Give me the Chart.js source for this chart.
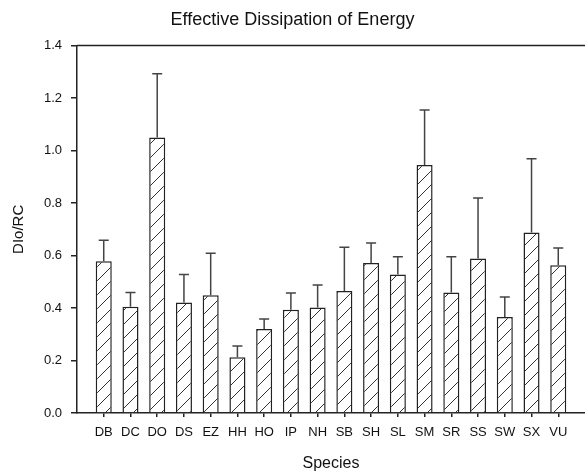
<!DOCTYPE html>
<html>
<head>
<meta charset="utf-8">
<script src="https://cdn.jsdelivr.net/npm/chart.js@4.4.1/dist/chart.umd.min.js"></script>
<style>
  html, body { margin: 0; padding: 0; background: #fff; }
  #wrap { width: 585px; height: 475px; }
</style>
</head>
<body>
<div id="wrap"><canvas id="dissChart" width="585" height="475"></canvas></div>
<script>
// values
const species = ["DB", "DC", "DO", "DS", "EZ", "HH", "HO", "IP", "NH",
  "SB", "SH", "SL", "SM", "SR", "SS", "SW", "SX", "VU"];
const dioRc = [0.578, 0.405, 1.050, 0.421, 0.449, 0.212, 0.320, 0.393, 0.402,
  0.465, 0.572, 0.528, 0.945, 0.459, 0.589, 0.366, 0.688, 0.563];
const dioRcErr = [0.080, 0.054, 0.243, 0.107, 0.160, 0.043, 0.038, 0.064, 0.086,
  0.167, 0.076, 0.067, 0.210, 0.136, 0.230, 0.076, 0.281, 0.066];
const yTicks = [0, 0.2, 0.4, 0.6, 0.8, 1.0, 1.2, 1.4];

const FONT = "'Liberation Sans', Arial, sans-serif";
const INK = "#222";

// diagonal hatch fill
function makeHatch() {
  const s = 14;
  const c = document.createElement("canvas");
  c.width = s;
  c.height = s;
  const g = c.getContext("2d");
  g.fillStyle = "#fff";
  g.fillRect(0, 0, s, s);
  g.strokeStyle = "#333";
  g.lineWidth = 1;
  g.beginPath();
  g.moveTo(0, s);
  g.lineTo(s, 0);
  g.moveTo(-s / 2, s / 2);
  g.lineTo(s / 2, -s / 2);
  g.moveTo(s / 2, s * 1.5);
  g.lineTo(s * 1.5, s / 2);
  g.stroke();
  return g.createPattern(c, "repeat");
}

// upper error bars + top frame line
const errorBars = {
  id: "errorBars",
  afterDatasetsDraw(chart) {
    const { ctx, scales: { x, y } } = chart;
    ctx.save();
    ctx.strokeStyle = "#444";
    ctx.lineWidth = 1.5;
    dioRc.forEach((v, i) => {
      const px = x.getPixelForValue(i + 1);
      const yb = y.getPixelForValue(v);
      const yt = y.getPixelForValue(v + dioRcErr[i]);
      ctx.beginPath();
      ctx.moveTo(px, yb);
      ctx.lineTo(px, yt);
      ctx.moveTo(px - 5, yt);
      ctx.lineTo(px + 5, yt);
      ctx.stroke();
    });
    ctx.restore();
  },
  afterDraw(chart) {
    const { ctx, chartArea: a } = chart;
    ctx.save();
    ctx.strokeStyle = INK;
    ctx.lineWidth = 1.5;
    ctx.beginPath();
    ctx.moveTo(a.left, a.top);
    ctx.lineTo(a.right, a.top);
    ctx.stroke();
    ctx.restore();
  },
};

new Chart(document.getElementById("dissChart"), {
  type: "bar",
  data: {
    datasets: [
      {
        label: "DIo/RC",
        data: species.map((s, i) => ({ x: i + 1, y: dioRc[i] })),
        backgroundColor: makeHatch(),
        borderColor: INK,
        borderWidth: 1.5,
        borderSkipped: "bottom",
        barPercentage: 0.6,
        categoryPercentage: 1,
      },
    ],
  },
  options: {
    responsive: false,
    animation: false,
    layout: { padding: 0 },
    plugins: {
      legend: { display: false },
      tooltip: { enabled: false },
      title: {
        display: true,
        text: "Effective Dissipation of Energy",
        color: "#111",
        font: { family: FONT, size: 18, weight: "normal" },
        padding: { top: 9, bottom: 15 },
      },
    },
    scales: {
      x: {
        type: "linear",
        min: 0,
        max: 19,
        offset: false,
        afterBuildTicks: (s) => {
          s.ticks = species.map((n, i) => ({ value: i + 1 }));
        },
        afterFit: (s) => { s.height = 62; },
        ticks: {
          autoSkip: false,
          maxRotation: 0,
          padding: 8,
          color: "#111",
          font: { family: FONT, size: 13 },
          callback: (v) => species[v - 1] ?? "",
        },
        grid: { offset: false, drawOnChartArea: false, drawTicks: true, tickLength: 4, color: INK, lineWidth: 1.5 },
        border: { display: true, color: INK, width: 1.5 },
        title: {
          display: true,
          text: "Species",
          color: "#111",
          font: { family: FONT, size: 16 },
          padding: { top: 0, bottom: 2 },
        },
      },
      y: {
        min: 0,
        max: 1.4,
        afterBuildTicks: (s) => {
          s.ticks = yTicks.map((v) => ({ value: v }));
        },
        afterFit: (s) => { s.width = 77; },
        ticks: {
          padding: 9,
          color: "#111",
          font: { family: FONT, size: 13 },
          callback: (v) => v.toFixed(1),
        },
        grid: { drawOnChartArea: false, drawTicks: true, tickLength: 6, color: INK, lineWidth: 1.5 },
        border: { display: true, color: INK, width: 1.5 },
        title: {
          display: true,
          text: "DIo/RC",
          color: "#111",
          font: { family: FONT, size: 15 },
          padding: { top: 10, bottom: 0 },
        },
      },
    },
  },
  plugins: [errorBars],
});
</script>
</body>
</html>
